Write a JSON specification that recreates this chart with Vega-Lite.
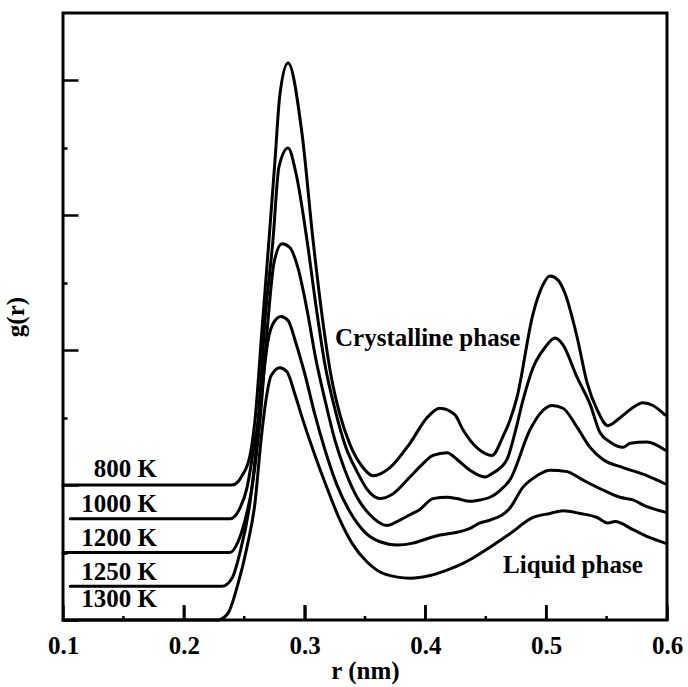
{
  "$schema": "https://vega.github.io/schema/vega-lite/v6.json",
  "width": 604,
  "height": 607,
  "autosize": "none",
  "padding": {"left": 63, "top": 13, "right": 21, "bottom": 67},
  "background": "white",
  "config": {"view": {"stroke": "black", "strokeWidth": 3}, "font": "Liberation Serif"},
  "datasets": {
    "curves": [
      {"T": "800 K", "r": 0.100, "g": 1.0},
      {"T": "800 K", "r": 0.2399, "g": 1.0},
      {"T": "800 K", "r": 0.2482, "g": 1.07},
      {"T": "800 K", "r": 0.2548, "g": 1.22},
      {"T": "800 K", "r": 0.2589, "g": 1.48},
      {"T": "800 K", "r": 0.2647, "g": 2.15},
      {"T": "800 K", "r": 0.2705, "g": 2.815},
      {"T": "800 K", "r": 0.2755, "g": 3.41},
      {"T": "800 K", "r": 0.2796, "g": 3.90},
      {"T": "800 K", "r": 0.2863, "g": 4.13},
      {"T": "800 K", "r": 0.2978, "g": 3.61},
      {"T": "800 K", "r": 0.3070, "g": 2.815},
      {"T": "800 K", "r": 0.3144, "g": 2.26},
      {"T": "800 K", "r": 0.3219, "g": 1.81},
      {"T": "800 K", "r": 0.3293, "g": 1.52},
      {"T": "800 K", "r": 0.3376, "g": 1.30},
      {"T": "800 K", "r": 0.3475, "g": 1.14},
      {"T": "800 K", "r": 0.3566, "g": 1.07},
      {"T": "800 K", "r": 0.3707, "g": 1.13},
      {"T": "800 K", "r": 0.3872, "g": 1.31},
      {"T": "800 K", "r": 0.4013, "g": 1.50},
      {"T": "800 K", "r": 0.4121, "g": 1.57},
      {"T": "800 K", "r": 0.4245, "g": 1.52},
      {"T": "800 K", "r": 0.4311, "g": 1.41},
      {"T": "800 K", "r": 0.4435, "g": 1.27},
      {"T": "800 K", "r": 0.4551, "g": 1.22},
      {"T": "800 K", "r": 0.4642, "g": 1.36},
      {"T": "800 K", "r": 0.4700, "g": 1.48},
      {"T": "800 K", "r": 0.4758, "g": 1.65},
      {"T": "800 K", "r": 0.4891, "g": 2.27},
      {"T": "800 K", "r": 0.4965, "g": 2.47},
      {"T": "800 K", "r": 0.5031, "g": 2.55},
      {"T": "800 K", "r": 0.5098, "g": 2.52},
      {"T": "800 K", "r": 0.5156, "g": 2.42},
      {"T": "800 K", "r": 0.5255, "g": 2.10},
      {"T": "800 K", "r": 0.5338, "g": 1.76},
      {"T": "800 K", "r": 0.5421, "g": 1.56},
      {"T": "800 K", "r": 0.5511, "g": 1.44},
      {"T": "800 K", "r": 0.5611, "g": 1.50},
      {"T": "800 K", "r": 0.5710, "g": 1.57},
      {"T": "800 K", "r": 0.5801, "g": 1.61},
      {"T": "800 K", "r": 0.5884, "g": 1.59},
      {"T": "800 K", "r": 0.5983, "g": 1.52},

      {"T": "1000 K", "r": 0.106, "g": 0.75},
      {"T": "1000 K", "r": 0.2382, "g": 0.75},
      {"T": "1000 K", "r": 0.2465, "g": 0.83},
      {"T": "1000 K", "r": 0.2523, "g": 0.98},
      {"T": "1000 K", "r": 0.2573, "g": 1.24},
      {"T": "1000 K", "r": 0.2614, "g": 1.48},
      {"T": "1000 K", "r": 0.2672, "g": 2.22},
      {"T": "1000 K", "r": 0.2738, "g": 2.815},
      {"T": "1000 K", "r": 0.2788, "g": 3.36},
      {"T": "1000 K", "r": 0.2863, "g": 3.50},
      {"T": "1000 K", "r": 0.2929, "g": 3.31},
      {"T": "1000 K", "r": 0.3020, "g": 2.815},
      {"T": "1000 K", "r": 0.3094, "g": 2.33},
      {"T": "1000 K", "r": 0.3169, "g": 1.89},
      {"T": "1000 K", "r": 0.3252, "g": 1.56},
      {"T": "1000 K", "r": 0.3334, "g": 1.30},
      {"T": "1000 K", "r": 0.3434, "g": 1.10},
      {"T": "1000 K", "r": 0.3525, "g": 0.96},
      {"T": "1000 K", "r": 0.3624, "g": 0.90},
      {"T": "1000 K", "r": 0.3723, "g": 0.93},
      {"T": "1000 K", "r": 0.3872, "g": 1.06},
      {"T": "1000 K", "r": 0.3980, "g": 1.16},
      {"T": "1000 K", "r": 0.4063, "g": 1.22},
      {"T": "1000 K", "r": 0.4179, "g": 1.24},
      {"T": "1000 K", "r": 0.4262, "g": 1.19},
      {"T": "1000 K", "r": 0.4369, "g": 1.11},
      {"T": "1000 K", "r": 0.4493, "g": 1.06},
      {"T": "1000 K", "r": 0.4560, "g": 1.09},
      {"T": "1000 K", "r": 0.4675, "g": 1.19},
      {"T": "1000 K", "r": 0.4742, "g": 1.39},
      {"T": "1000 K", "r": 0.4808, "g": 1.63},
      {"T": "1000 K", "r": 0.4891, "g": 1.87},
      {"T": "1000 K", "r": 0.4990, "g": 2.02},
      {"T": "1000 K", "r": 0.5073, "g": 2.09},
      {"T": "1000 K", "r": 0.5139, "g": 2.04},
      {"T": "1000 K", "r": 0.5255, "g": 1.80},
      {"T": "1000 K", "r": 0.5363, "g": 1.60},
      {"T": "1000 K", "r": 0.5445, "g": 1.39},
      {"T": "1000 K", "r": 0.5528, "g": 1.32},
      {"T": "1000 K", "r": 0.5636, "g": 1.28},
      {"T": "1000 K", "r": 0.5694, "g": 1.31},
      {"T": "1000 K", "r": 0.5834, "g": 1.32},
      {"T": "1000 K", "r": 0.5983, "g": 1.26},

      {"T": "1200 K", "r": 0.100, "g": 0.5},
      {"T": "1200 K", "r": 0.2382, "g": 0.5},
      {"T": "1200 K", "r": 0.2449, "g": 0.58},
      {"T": "1200 K", "r": 0.2507, "g": 0.74},
      {"T": "1200 K", "r": 0.2565, "g": 0.985},
      {"T": "1200 K", "r": 0.2631, "g": 1.48},
      {"T": "1200 K", "r": 0.2697, "g": 2.22},
      {"T": "1200 K", "r": 0.2747, "g": 2.65},
      {"T": "1200 K", "r": 0.2813, "g": 2.79},
      {"T": "1200 K", "r": 0.2879, "g": 2.76},
      {"T": "1200 K", "r": 0.2945, "g": 2.61},
      {"T": "1200 K", "r": 0.3020, "g": 2.30},
      {"T": "1200 K", "r": 0.3094, "g": 1.93},
      {"T": "1200 K", "r": 0.3169, "g": 1.63},
      {"T": "1200 K", "r": 0.3252, "g": 1.33},
      {"T": "1200 K", "r": 0.3334, "g": 1.11},
      {"T": "1200 K", "r": 0.3434, "g": 0.91},
      {"T": "1200 K", "r": 0.3541, "g": 0.78},
      {"T": "1200 K", "r": 0.3682, "g": 0.70},
      {"T": "1200 K", "r": 0.3765, "g": 0.73},
      {"T": "1200 K", "r": 0.3872, "g": 0.78},
      {"T": "1200 K", "r": 0.3955, "g": 0.82},
      {"T": "1200 K", "r": 0.4063, "g": 0.90},
      {"T": "1200 K", "r": 0.4179, "g": 0.91},
      {"T": "1200 K", "r": 0.4262, "g": 0.90},
      {"T": "1200 K", "r": 0.4369, "g": 0.88},
      {"T": "1200 K", "r": 0.4452, "g": 0.89},
      {"T": "1200 K", "r": 0.4535, "g": 0.91},
      {"T": "1200 K", "r": 0.4617, "g": 0.96},
      {"T": "1200 K", "r": 0.4700, "g": 1.04},
      {"T": "1200 K", "r": 0.4866, "g": 1.41},
      {"T": "1200 K", "r": 0.4949, "g": 1.53},
      {"T": "1200 K", "r": 0.5048, "g": 1.59},
      {"T": "1200 K", "r": 0.5139, "g": 1.57},
      {"T": "1200 K", "r": 0.5255, "g": 1.43},
      {"T": "1200 K", "r": 0.5363, "g": 1.28},
      {"T": "1200 K", "r": 0.5470, "g": 1.19},
      {"T": "1200 K", "r": 0.5636, "g": 1.13},
      {"T": "1200 K", "r": 0.5834, "g": 1.07},
      {"T": "1200 K", "r": 0.5983, "g": 1.01},

      {"T": "1250 K", "r": 0.106, "g": 0.25},
      {"T": "1250 K", "r": 0.2316, "g": 0.25},
      {"T": "1250 K", "r": 0.2399, "g": 0.31},
      {"T": "1250 K", "r": 0.2465, "g": 0.50},
      {"T": "1250 K", "r": 0.2548, "g": 0.87},
      {"T": "1250 K", "r": 0.2623, "g": 1.48},
      {"T": "1250 K", "r": 0.2656, "g": 1.78},
      {"T": "1250 K", "r": 0.2697, "g": 2.07},
      {"T": "1250 K", "r": 0.2747, "g": 2.21},
      {"T": "1250 K", "r": 0.2805, "g": 2.25},
      {"T": "1250 K", "r": 0.2863, "g": 2.22},
      {"T": "1250 K", "r": 0.2929, "g": 2.05},
      {"T": "1250 K", "r": 0.3003, "g": 1.82},
      {"T": "1250 K", "r": 0.3086, "g": 1.52},
      {"T": "1250 K", "r": 0.3169, "g": 1.26},
      {"T": "1250 K", "r": 0.3268, "g": 1.00},
      {"T": "1250 K", "r": 0.3376, "g": 0.80},
      {"T": "1250 K", "r": 0.3500, "g": 0.65},
      {"T": "1250 K", "r": 0.3624, "g": 0.58},
      {"T": "1250 K", "r": 0.3765, "g": 0.556},
      {"T": "1250 K", "r": 0.3897, "g": 0.57},
      {"T": "1250 K", "r": 0.4038, "g": 0.61},
      {"T": "1250 K", "r": 0.4121, "g": 0.63},
      {"T": "1250 K", "r": 0.4262, "g": 0.65},
      {"T": "1250 K", "r": 0.4369, "g": 0.68},
      {"T": "1250 K", "r": 0.4452, "g": 0.72},
      {"T": "1250 K", "r": 0.4535, "g": 0.74},
      {"T": "1250 K", "r": 0.4700, "g": 0.83},
      {"T": "1250 K", "r": 0.4808, "g": 0.985},
      {"T": "1250 K", "r": 0.4924, "g": 1.07},
      {"T": "1250 K", "r": 0.5031, "g": 1.11},
      {"T": "1250 K", "r": 0.5172, "g": 1.10},
      {"T": "1250 K", "r": 0.5280, "g": 1.05},
      {"T": "1250 K", "r": 0.5363, "g": 1.01},
      {"T": "1250 K", "r": 0.5503, "g": 0.95},
      {"T": "1250 K", "r": 0.5611, "g": 0.91},
      {"T": "1250 K", "r": 0.5718, "g": 0.89},
      {"T": "1250 K", "r": 0.5834, "g": 0.84},
      {"T": "1250 K", "r": 0.5983, "g": 0.80},

      {"T": "1300 K", "r": 0.100, "g": 0.0},
      {"T": "1300 K", "r": 0.2283, "g": 0.0},
      {"T": "1300 K", "r": 0.2366, "g": 0.05},
      {"T": "1300 K", "r": 0.2440, "g": 0.24},
      {"T": "1300 K", "r": 0.2523, "g": 0.54},
      {"T": "1300 K", "r": 0.2589, "g": 0.867},
      {"T": "1300 K", "r": 0.2639, "g": 1.33},
      {"T": "1300 K", "r": 0.2680, "g": 1.63},
      {"T": "1300 K", "r": 0.2722, "g": 1.81},
      {"T": "1300 K", "r": 0.2796, "g": 1.87},
      {"T": "1300 K", "r": 0.2854, "g": 1.84},
      {"T": "1300 K", "r": 0.2921, "g": 1.67},
      {"T": "1300 K", "r": 0.2987, "g": 1.48},
      {"T": "1300 K", "r": 0.3086, "g": 1.22},
      {"T": "1300 K", "r": 0.3185, "g": 0.98},
      {"T": "1300 K", "r": 0.3293, "g": 0.74},
      {"T": "1300 K", "r": 0.3392, "g": 0.57},
      {"T": "1300 K", "r": 0.3517, "g": 0.43},
      {"T": "1300 K", "r": 0.3666, "g": 0.34},
      {"T": "1300 K", "r": 0.3872, "g": 0.31},
      {"T": "1300 K", "r": 0.4038, "g": 0.33},
      {"T": "1300 K", "r": 0.4179, "g": 0.37},
      {"T": "1300 K", "r": 0.4311, "g": 0.42},
      {"T": "1300 K", "r": 0.4394, "g": 0.46},
      {"T": "1300 K", "r": 0.4535, "g": 0.54},
      {"T": "1300 K", "r": 0.4700, "g": 0.64},
      {"T": "1300 K", "r": 0.4891, "g": 0.76},
      {"T": "1300 K", "r": 0.5031, "g": 0.79},
      {"T": "1300 K", "r": 0.5139, "g": 0.81},
      {"T": "1300 K", "r": 0.5280, "g": 0.79},
      {"T": "1300 K", "r": 0.5421, "g": 0.76},
      {"T": "1300 K", "r": 0.5511, "g": 0.72},
      {"T": "1300 K", "r": 0.5570, "g": 0.73},
      {"T": "1300 K", "r": 0.5718, "g": 0.67},
      {"T": "1300 K", "r": 0.5859, "g": 0.61},
      {"T": "1300 K", "r": 0.5983, "g": 0.57}
    ],
    "templabels": [
      {"label": "800 K", "r": 0.1778, "g": 1.059},
      {"label": "1000 K", "r": 0.1778, "g": 0.800},
      {"label": "1200 K", "r": 0.1778, "g": 0.548},
      {"label": "1250 K", "r": 0.1778, "g": 0.296},
      {"label": "1300 K", "r": 0.1778, "g": 0.096}
    ],
    "phaselabels": [
      {"label": "Crystalline phase", "r": 0.3252, "g": 2.03},
      {"label": "Liquid phase", "r": 0.4643, "g": 0.348}
    ],
    "majorticks": [{"r": 0.2}, {"r": 0.3}, {"r": 0.4}, {"r": 0.5}],
    "minorticks": [{"r": 0.15}, {"r": 0.25}, {"r": 0.35}, {"r": 0.45}, {"r": 0.55}]
  },
  "resolve": {"axis": {"x": "independent", "y": "independent"}},
  "layer": [
    {
      "data": {"name": "curves"},
      "mark": {"type": "line", "color": "black", "strokeWidth": 3, "interpolate": "monotone", "strokeCap": "round", "strokeJoin": "round"},
      "encoding": {
        "x": {
          "field": "r", "type": "quantitative",
          "scale": {"domain": [0.1, 0.6], "nice": false, "zero": false},
          "axis": {
            "orient": "bottom",
            "values": [0.1, 0.2, 0.3, 0.4, 0.5, 0.6],
            "format": ".1f",
            "tickSize": -15,
            "tickWidth": 2.5,
            "tickColor": "black",
            "domain": false,
            "grid": false,
            "labelFont": "Liberation Serif", "labelFontWeight": "bold", "labelFontSize": 25, "labelColor": "black",
            "labelPadding": 28,
            "labelFlush": false,
            "labelOverlap": false,
            "title": "r (nm)",
            "titleFont": "Liberation Serif", "titleFontWeight": "bold", "titleFontSize": 25, "titleColor": "black",
            "titlePadding": 0
          }
        },
        "y": {
          "field": "g", "type": "quantitative",
          "scale": {"domain": [0, 4.5], "nice": false, "zero": false},
          "axis": {
            "orient": "left",
            "values": [0, 1, 2, 3, 4],
            "labels": false,
            "tickSize": -15,
            "tickWidth": 2.5,
            "tickColor": "black",
            "domain": false,
            "grid": false,
            "title": "g(r)",
            "titleFont": "Liberation Serif", "titleFontWeight": "bold", "titleFontSize": 25, "titleColor": "black",
            "titlePadding": 33
          }
        },
        "detail": {"field": "T"}
      }
    },
    {
      "data": {"name": "majorticks"},
      "mark": {"type": "rule", "color": "black", "strokeWidth": 2.5},
      "encoding": {
        "x": {"field": "r", "type": "quantitative", "axis": null},
        "y": {"datum": 0, "type": "quantitative", "axis": null},
        "y2": {"datum": 0.111}
      }
    },
    {
      "data": {"name": "minorticks"},
      "mark": {"type": "rule", "color": "black", "strokeWidth": 2.5},
      "encoding": {
        "x": {"field": "r", "type": "quantitative", "axis": null},
        "y": {"datum": 0, "type": "quantitative", "axis": null},
        "y2": {"datum": 0.03}
      }
    },
    {
      "data": {"name": "templabels"},
      "mark": {"type": "text", "font": "Liberation Serif", "fontWeight": "bold", "fontSize": 25, "color": "black", "align": "right", "baseline": "alphabetic"},
      "encoding": {
        "x": {"field": "r", "type": "quantitative", "axis": null},
        "y": {
          "field": "g", "type": "quantitative",
          "axis": {"orient": "left", "values": [0.5, 1.5, 2.5, 3.5], "labels": false, "tickSize": -4, "tickWidth": 2.5, "tickColor": "black", "domain": false, "grid": false, "title": null}
        },
        "text": {"field": "label"}
      }
    },
    {
      "data": {"name": "phaselabels"},
      "mark": {"type": "text", "font": "Liberation Serif", "fontWeight": "bold", "fontSize": 25, "color": "black", "align": "left", "baseline": "alphabetic"},
      "encoding": {
        "x": {"field": "r", "type": "quantitative", "axis": null},
        "y": {"field": "g", "type": "quantitative", "axis": null},
        "text": {"field": "label"}
      }
    }
  ]
}
